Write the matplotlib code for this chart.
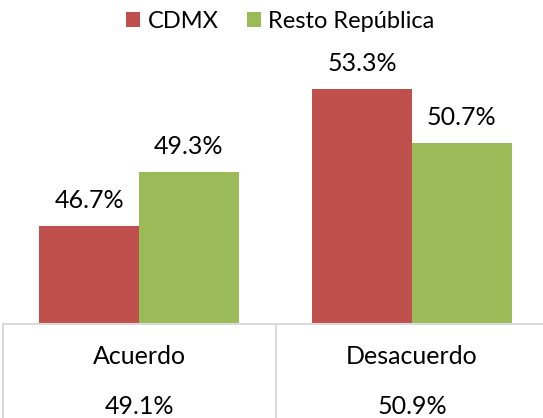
import matplotlib.pyplot as plt
import numpy as np

categories = ['Acuerdo', 'Desacuerdo']
cdmx = [46.7, 53.3]
resto = [49.3, 50.7]
totales = ['49.1%', '50.9%']
series_names = ['CDMX', 'Resto República']
colors = ['#C0504D', '#9BBB59']

plt.rcParams['font.family'] = ['Lato', 'DejaVu Sans']

fig = plt.figure(figsize=(5.43, 4.18), dpi=100)
# axes spans a bit past the right edge, like the cropped original
ax = fig.add_axes([2.5 / 543, 94 / 418, 546 / 543, 291 / 418])

x = np.arange(len(categories))
w = 0.365
bars1 = ax.bar(x - w / 2, cdmx, w, color=colors[0], label=series_names[0])
bars2 = ax.bar(x + w / 2, resto, w, color=colors[1], label=series_names[1])

ax.set_ylim(42, 56)
ax.set_xlim(-0.5, 1.5)

for bars, vals in [(bars1, cdmx), (bars2, resto)]:
    for b, v in zip(bars, vals):
        ax.annotate(f'{v:.1f}%', (b.get_x() + b.get_width() / 2, v),
                    xytext=(0, 18), textcoords='offset pixels',
                    ha='center', va='baseline', fontsize=18)

# data table under the axis
ax.set_xticks([])
ax.set_yticks([])
for s in ['top', 'left', 'right']:
    ax.spines[s].set_visible(False)
ax.spines['bottom'].set_color('#D9D9D9')
ax.spines['bottom'].set_linewidth(1.5)

trans = ax.get_xaxis_transform()
for xb in [-0.5, 0.5, 1.5]:
    ax.plot([xb, xb], [0, -0.5], color='#D9D9D9', lw=1.5,
            transform=trans, clip_on=False)
for i, (cat, tot) in enumerate(zip(categories, totales)):
    ax.annotate(cat, (i, 0), xycoords=trans, xytext=(0, -33),
                textcoords='offset pixels', ha='center', va='center',
                fontsize=18)
    ax.annotate(tot, (i, 0), xycoords=trans, xytext=(0, -82),
                textcoords='offset pixels', ha='center', va='center',
                fontsize=18)

fig.legend(loc='center', bbox_to_anchor=(0.516, 0.948), ncol=2, frameon=False,
           fontsize=17, handlelength=0.6, handleheight=0.6,
           handletextpad=0.3, columnspacing=1.2, borderaxespad=0)

fig.savefig('out.png', dpi=100)
